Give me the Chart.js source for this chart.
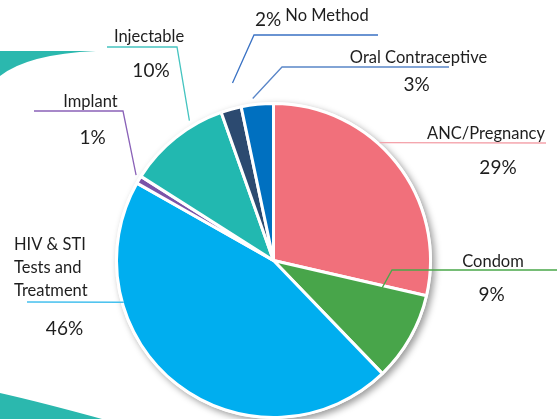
<!DOCTYPE html>
<html><head><meta charset="utf-8">
<script src="https://cdn.jsdelivr.net/npm/chart.js@4.4.0/dist/chart.umd.min.js"></script>
<style>html,body{margin:0;padding:0;background:#fff;overflow:hidden}canvas{display:block}</style>
</head><body>
<canvas id="c" width="557" height="419"></canvas>
<script>
const categories = ['ANC/Pregnancy','Condom','HIV & STI Tests and Treatment','Implant','Injectable','No Method','Oral Contraceptive'];
const shareValues = [28.6, 9.2, 45.4, 0.8, 10.6, 2.1, 3.3];
const percentLabels = ['29%','9%','46%','1%','10%','2%','3%'];
const sliceColors = ['#f1707b','#48a54a','#00aeef','#7a54a8','#22b8b0','#2c4a70','#0070c0'];
const lineColors = ['#f4a3ab','#4aa84a','#45c0ee','#8a62b8','#45c4c0','#3a72c4','#5a86c8'];

// label layout: name lines, name pos, pct pos, leader anchor (fraction in slice, radius factor), leader path
const labelLayout = [
  {name:['ANC/Pregnancy'], nx:486, ny:139, align:'center', px:498, py:174, frac:0.408, rf:1.01, path:[[546,143]]},
  {name:['Condom'], nx:493, ny:267, align:'center', px:491.5, py:301, frac:0.07, rf:0.71, path:[[392,270],[557,270]]},
  {name:['HIV & STI','Tests and','Treatment'], nx:14, ny:250, align:'left', lh:23, px:64.5, py:335, frac:0.724, rf:0.99, path:[[27,302]]},
  {name:['Implant'], nx:90.5, ny:107, align:'center', px:92.5, py:144, frac:0.8, rf:1.03, path:[[123,111],[34,111]]},
  {name:['Injectable'], nx:149, ny:42, align:'center', px:151, py:77, frac:0.697, rf:1.04, path:[[177,47],[107,47]]},
  {name:['No Method'], nx:327, ny:21, align:'center', px:268, py:26, frac:0.85, rf:1.16, path:[[254,35],[378,35]]},
  {name:['Oral Contraceptive'], nx:418.5, ny:63, align:'center', px:416.5, py:91, frac:0.385, rf:1.04, path:[[282,67],[449,67]]}
];

const decoPlugin = {
  id:'deco',
  beforeDraw(chart){
    const ctx = chart.ctx;
    ctx.save();
    ctx.fillStyle = '#2bb8ae';
    ctx.beginPath();
    ctx.moveTo(0,51); ctx.lineTo(96,51);
    ctx.quadraticCurveTo(28,54,0,76);
    ctx.closePath(); ctx.fill();
    ctx.beginPath();
    ctx.moveTo(0,393); ctx.quadraticCurveTo(40,402,102,419);
    ctx.lineTo(0,419); ctx.closePath(); ctx.fill();
    ctx.restore();
  },
  beforeDatasetsDraw(chart){
    const arc = chart.getDatasetMeta(0).data[0];
    const ctx = chart.ctx;
    ctx.save();
    ctx.shadowColor = 'rgba(0,0,0,0.4)';
    ctx.shadowBlur = 7; ctx.shadowOffsetX = 3; ctx.shadowOffsetY = 3;
    ctx.fillStyle = '#fff';
    ctx.beginPath();
    ctx.arc(arc.x, arc.y, arc.outerRadius + 1.5, 0, Math.PI*2);
    ctx.fill();
    ctx.restore();
  },
  afterDraw(chart){
    const ctx = chart.ctx;
    const meta = chart.getDatasetMeta(0);
    ctx.save();
    labelLayout.forEach((L,i)=>{
      const arc = meta.data[i];
      const a = arc.startAngle + (arc.endAngle - arc.startAngle)*L.frac;
      const r = arc.outerRadius * L.rf;
      const sx = arc.x + r*Math.cos(a), sy = arc.y + r*Math.sin(a);
      ctx.strokeStyle = lineColors[i];
      ctx.lineWidth = 1.3;
      ctx.beginPath();
      ctx.moveTo(sx, sy);
      L.path.forEach(p=>ctx.lineTo(p[0],p[1]));
      ctx.stroke();
      ctx.fillStyle = '#1e1e1e';
      ctx.textBaseline = 'alphabetic';
      ctx.font = '16.5px Lato';
      ctx.textAlign = L.align;
      L.name.forEach((t,k)=>ctx.fillText(t, L.nx, L.ny + k*(L.lh||0)));
      ctx.font = '19px Lato';
      ctx.textAlign = 'center';
      ctx.fillText(percentLabels[i], L.px, L.py);
    });
    ctx.restore();
  }
};

new Chart(document.getElementById('c'), {
  type:'pie',
  data:{
    labels: categories,
    datasets:[{
      data: shareValues,
      backgroundColor: sliceColors,
      borderColor:'#ffffff',
      borderWidth:3
    }]
  },
  options:{
    responsive:false,
    devicePixelRatio:1,
    animation:false,
    layout:{padding:{top:102,left:115,right:125,bottom:0}},
    plugins:{legend:{display:false},tooltip:{enabled:false}}
  },
  plugins:[decoPlugin]
});
</script>
</body></html>
